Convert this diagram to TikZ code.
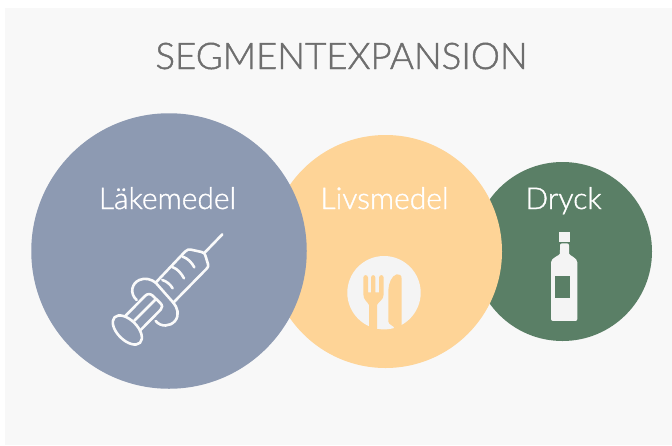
\documentclass[tikz,border=0pt]{standalone}
\usepackage{fontspec}
\setmainfont{Lato Light}[RawFeature={embolden=1.2}]
\definecolor{bgc}{HTML}{F8F8F8}
\definecolor{blue1}{HTML}{8D9AB2}
\definecolor{orange1}{HTML}{FED497}
\definecolor{green1}{HTML}{5A7F66}
\definecolor{plate}{HTML}{F4F4F4}
\definecolor{titlec}{HTML}{6E6E6E}
\tikzset{
  disc/.style={circle,inner sep=0pt,minimum size=#1,draw=none},
  lbl/.style={text=white,font=\fontsize{30}{33}\selectfont,inner sep=0pt,anchor=base},
  icon/.style={draw=white!96!gray,line width=2.6pt,line cap=round,line join=round}
}
\begin{document}
\begin{tikzpicture}[x=1pt,y=-1pt]
\useasboundingbox (0,0) rectangle (672,445);
\fill[white] (0,0) rectangle (672,445);
\fill[bgc] (5,8) rectangle (672,445);
\node[text=titlec,font=\fontsize{36.7}{40}\selectfont,inner sep=0pt,anchor=base] (title) at (341.5,69) {SEGMENTEXPANSION};
\node[disc=179pt,fill=green1] (dryck) at (562.5,251.5) {};
\node[disc=233pt,fill=orange1] (livs) at (385.5,251.5) {};
\node[disc=275.5pt,fill=blue1] (lake) at (169,251) {};
\node[lbl] (t1) at (167.5,209) {Läkemedel};
\node[lbl] (t2) at (384.5,209) {Livsmedel};
\node[lbl] (t3) at (563.5,209) {Dryck};
% syringe
\begin{scope}[shift={(90,220)},x=0.3333pt,y=-0.3333pt,icon]
\draw (397,43) -- (345,97);
\draw (197,188) -- (285,95) .. controls (292,88) and (296,88) .. (303,89) -- (335,96) .. controls (342,98) and (345,101) .. (346,106) -- (354,132) .. controls (356,138) and (354,141) .. (351,145) -- (250,248);
\draw (278,110) .. controls (293,115) and (305,127) .. (313,142);
\draw (247,141) .. controls (262,146) and (274,160) .. (282,175);
\draw (217,180) .. controls (230,184) and (241,193) .. (248,205);
\draw (197,188) .. controls (185,178) and (165,172) .. (148,180) .. controls (125,190) and (118,220) .. (140,240);
\draw (250,248) .. controls (262,262) and (270,285) .. (255,303) .. controls (240,320) and (213,322) .. (197,303);
\draw (197,188) -- (250,248);
\draw (107,287) -- (165,228) .. controls (172,221) and (180,220) .. (188,227) -- (210,248) .. controls (218,256) and (218,263) .. (212,269) -- (152,330);
\draw (133,302) -- (195,240);
\draw[rotate around={-45:(112,330)}] (112,330) ellipse [x radius=54,y radius=30];
\end{scope}
% plate
\node[disc=73.4pt,fill=plate] (plateN) at (384,292.7) {};
\begin{scope}[shift={(345,255)},x=0.3333pt,y=-0.3333pt]
\fill[orange1] (55,68) .. controls (55,58) and (69,58) .. (69,68) -- (69,112) -- (78,112) -- (78,68) .. controls (78,58) and (91,58) .. (91,68) -- (91,112) -- (102,112) -- (102,68) .. controls (102,58) and (116,58) .. (116,68) -- (116,118) .. controls (116,135) and (100,140) .. (96,150) -- (96,242) -- (72,242) -- (72,150) .. controls (68,140) and (55,135) .. (55,118) -- cycle;
\fill[orange1] (130,105) .. controls (131,85) and (140,62) .. (155,58) .. controls (163,56) and (170,60) .. (170,72) -- (170,242) -- (148,242) -- (148,220) .. controls (148,212) and (131,210) .. (130,200) -- cycle;
\end{scope}
% bottle
\begin{scope}[shift={(540,225)},x=0.3333pt,y=-0.3333pt]
\fill[plate] (57,20) rectangle (90,50);
\fill[plate,rounded corners=2pt] (60,55) -- (87,55) -- (87,80) .. controls (88,92) and (112,98) .. (112,118) -- (112,288) -- (33,288) -- (33,118) .. controls (33,98) and (59,92) .. (60,80) -- cycle;
\fill[green1] (45,152) rectangle (90,220);
\end{scope}
\end{tikzpicture}
\end{document}
